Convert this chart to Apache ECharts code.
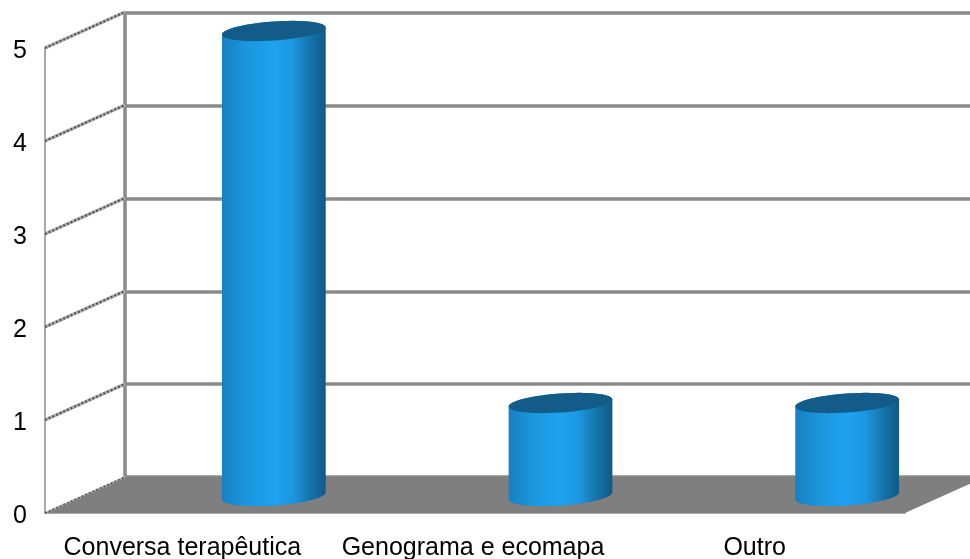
<!DOCTYPE html>
<html>
<head>
<meta charset="utf-8">
<style>html,body{margin:0;padding:0;background:#fff}#chart{width:970px;height:559px}</style>
<script src="https://cdn.jsdelivr.net/npm/echarts@6/dist/echarts.min.js"></script>
</head>
<body>
<div id="chart"></div>
<script>
// Chart data
const categories = ['Conversa terapêutica', 'Genograma e ecomapa', 'Outro'];
const values = [5, 1, 1];
const yTicks = [0, 1, 2, 3, 4, 5];

// Oblique projection of the 3D box, in pixels
const DEPTH_X = 80;
const DEPTH_Y = -36;
const BAR_SHIFT_X = 85.5;
const BAR_SHIFT_Y = -17;
const RADIUS_X = 52;
const RADIUS_Y = 9.5;
const TILT = -4 * Math.PI / 180;
const LABEL_STYLES = ['l0', 'l1', 'l2'];

const FONT = '"Liberation Sans", Arial, sans-serif';
const GRAY = '#8a8a8a';

function ellipsePoint(cx, cy, t) {
  const c = Math.cos(t), s = Math.sin(t);
  return [
    cx + RADIUS_X * c * Math.cos(TILT) - RADIUS_Y * s * Math.sin(TILT),
    cy + RADIUS_X * c * Math.sin(TILT) + RADIUS_Y * s * Math.cos(TILT)
  ];
}
function arc(cx, cy, from, to) {
  const pts = [];
  for (let i = 0; i <= 48; i++) pts.push(ellipsePoint(cx, cy, from + (to - from) * i / 48));
  return pts;
}

const renderFloor = (params, api) => {
  const cs = params.coordSys;
  const y = cs.y + cs.height;
  return {
    type: 'polygon',
    shape: { points: [
      [cs.x, y], [cs.x + cs.width, y],
      [cs.x + cs.width + DEPTH_X, y + DEPTH_Y], [cs.x + DEPTH_X, y + DEPTH_Y]
    ] },
    style: { fill: '#7f7f7f' }
  };
};

const renderSideWall = (params, api) => {
  const cs = params.coordSys;
  const y = api.coord([0, api.value(0)])[1];
  const shape = { x1: cs.x, y1: y, x2: cs.x + DEPTH_X, y2: y + DEPTH_Y };
  const base = api.value(0) > 0;
  return {
    type: 'group',
    children: [
      { type: 'line', shape, style: { stroke: '#b0b0b0', lineWidth: base ? 3.5 : 1.5, fill: null } },
      { type: 'line', shape, style: { stroke: '#555555', lineWidth: base ? 2.2 : 1.5, lineDash: [2, 2], fill: null } }
    ]
  };
};

const renderCylinder = (params, api) => {
  const i = api.value(0);
  const top = api.coord([i, api.value(1)]);
  const bottom = api.coord([i, 0]);
  const cx = top[0] + BAR_SHIFT_X;
  const yTop = top[1] + BAR_SHIFT_Y;
  const yBottom = bottom[1] + BAR_SHIFT_Y;
  const t0 = Math.atan2(-RADIUS_Y * Math.sin(TILT), RADIUS_X * Math.cos(TILT));
  const body = arc(cx, yBottom, t0, t0 + Math.PI).concat(arc(cx, yTop, t0 + Math.PI, t0 + 2 * Math.PI));
  const cap = arc(cx, yTop, 0, 2 * Math.PI);
  return {
    type: 'group',
    children: [
      {
        type: 'polygon',
        shape: { points: body },
        style: {
          fill: new echarts.graphic.LinearGradient(0, 0, 1, 0, [
            { offset: 0, color: '#1880c2' },
            { offset: 0.25, color: '#1c97df' },
            { offset: 0.5, color: '#1ea2f0' },
            { offset: 0.68, color: '#1c97e0' },
            { offset: 0.85, color: '#1673ab' },
            { offset: 1, color: '#0f5a86' }
          ])
        }
      },
      { type: 'polygon', shape: { points: cap }, style: { fill: '#135c8a' } }
    ]
  };
};

const labelRich = {
  l0: { fontFamily: FONT, fontSize: 25, color: '#000', padding: [0, 12, 0, 0] },
  l1: { fontFamily: FONT, fontSize: 25, color: '#000', padding: [0, 4, 0, 0] },
  l2: { fontFamily: FONT, fontSize: 25, color: '#000', padding: [0, 14, 0, 0] }
};

const chart = echarts.init(document.getElementById('chart'), null, { renderer: 'canvas' });
chart.setOption({
  animation: false,
  backgroundColor: '#fff',
  grid: [
    { left: 45, top: 48, width: 860, height: 465, outerBoundsMode: 'none' },
    { left: 125, top: 13, width: 860, height: 464, outerBoundsMode: 'none' }
  ],
  xAxis: [
    {
      type: 'category', gridIndex: 0, data: categories,
      axisLine: { lineStyle: { color: GRAY, width: 1.5 } },
      axisTick: { show: false },
      axisLabel: {
        margin: 23, interval: 0, hideOverlap: false,
        formatter: (v, i) => '{' + LABEL_STYLES[i] + '|' + v + '}',
        rich: labelRich
      }
    },
    { type: 'category', gridIndex: 1, data: categories, show: false }
  ],
  yAxis: [
    {
      type: 'value', gridIndex: 0, min: 0, max: 5, interval: 1,
      axisLine: { show: true, lineStyle: { color: GRAY, width: 1.5 } },
      axisTick: { show: false },
      splitLine: { show: false },
      axisLabel: {
        margin: 18,
        formatter: '{tick|{value}}',
        rich: { tick: { fontFamily: FONT, fontSize: 25, color: '#000', padding: [7, 0, 0, 0] } }
      }
    },
    {
      type: 'value', gridIndex: 1, min: 0, max: 5, interval: 1,
      axisLine: { show: true, lineStyle: { color: GRAY, width: 3.5 } },
      axisTick: { show: false },
      axisLabel: { show: false },
      splitLine: { show: true, lineStyle: { color: GRAY, width: 3.5 } }
    }
  ],
  series: [
    {
      type: 'custom', xAxisIndex: 0, yAxisIndex: 0, z: 2, silent: true,
      data: [[0]], renderItem: renderFloor
    },
    {
      type: 'custom', xAxisIndex: 0, yAxisIndex: 0, z: 3, silent: true,
      data: yTicks.map(v => [v]), renderItem: renderSideWall
    },
    {
      type: 'custom', xAxisIndex: 0, yAxisIndex: 0, z: 4, silent: true,
      data: values.map((v, i) => [i, v]),
      encode: { x: 0, y: 1 },
      renderItem: renderCylinder
    }
  ]
});
</script>
</body>
</html>
